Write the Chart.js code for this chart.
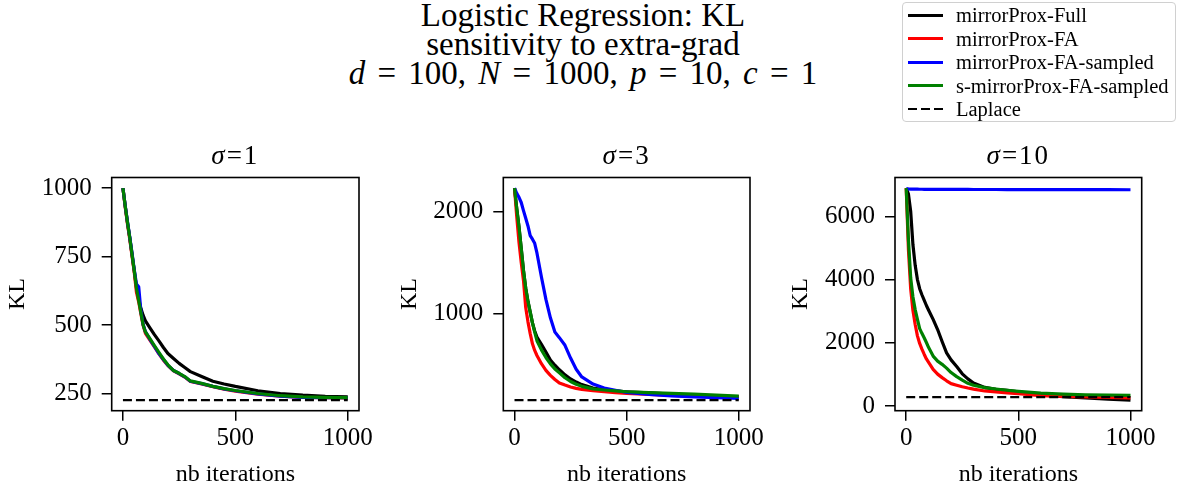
<!DOCTYPE html>
<html>
<head>
<meta charset="utf-8">
<script src="https://cdn.jsdelivr.net/npm/chart.js@4.4.0/dist/chart.umd.min.js"></script>
<style>
    body { margin: 0; background: #fff; }
    #page { position: relative; width: 1180px; height: 489px; overflow: hidden; font-family: "Liberation Serif", serif; color: #000; }
    canvas { position: absolute; left: 0; top: 0; }
    #title { position: absolute; left: 283px; top: 1px; width: 600px; text-align: center; font-size: 33px; line-height: 29px; }
    #title .math { word-spacing: 4px; }
    .sub { position: absolute; top: 140px; width: 200px; text-align: center; font-size: 27px; line-height: 30px; letter-spacing: 2px; }
    #legend { position: absolute; left: 902px; top: 2px; width: 272px; height: 118px; border: 1px solid #d0d0d0; border-radius: 4px; background: #fff; z-index: 5; }
    .row { position: absolute; left: 0; height: 24px; width: 272px; }
    .sample { position: absolute; left: 5px; top: 10.5px; width: 35px; height: 3px; }
    .row span { position: absolute; left: 53px; top: 0; font-size: 20.5px; line-height: 24px; white-space: nowrap; }
</style>
</head>
<body>
<div id="page">
    <div id="title">Logistic Regression: KL<br>sensitivity to extra-grad<br><span class="math"><i>d</i> = 100, <i>N</i> = 1000, <i>p</i> = 10, <i>c</i> = 1</span></div>
    <canvas id="chart1" width="1180" height="489"></canvas>
    <canvas id="chart2" width="1180" height="489"></canvas>
    <canvas id="chart3" width="1180" height="489"></canvas>
    <div id="legend"></div>
</div>
<script>
const iters = [0, 10, 20, 30, 40, 50, 60, 70, 80, 90, 100, 120, 140, 160, 180, 200, 225, 250, 275, 300, 350, 400, 450, 500, 600, 700, 800, 900, 1000];

const seriesNames = ['mirrorProx-Full', 'mirrorProx-FA', 'mirrorProx-FA-sampled', 's-mirrorProx-FA-sampled', 'Laplace'];
const sigmaLabels = ['1', '3', '10'];

// sigma = 1
const full1 = [1000, 935, 875, 821, 760, 700, 640, 595, 560, 535, 515, 490, 465, 442, 418, 396, 378, 360, 345, 330, 312, 295, 285, 276, 260, 250, 244, 240, 238];
const fa1 = [1000, 932, 870, 815, 755, 695, 620, 585, 540, 498, 470, 445, 420, 395, 372, 352, 333, 322, 310, 294, 285, 275, 266, 259, 248, 240, 236, 235, 234];
const faSampled1 = [1000, 937, 878, 823, 765, 705, 650, 640, 550, 502, 476, 448, 422, 396, 374, 353, 334, 323, 311, 295, 286, 276, 267, 260, 249, 240, 236, 235, 235];
const sFaSampled1 = [1000, 935, 875, 821, 760, 700, 635, 590, 545, 500, 475, 450, 425, 400, 376, 355, 334, 324, 312, 296, 287, 276, 268, 261, 250, 242, 238, 236, 235];

// sigma = 3
const full2 = [2231, 2030, 1850, 1640, 1424, 1250, 1120, 1016, 910, 830, 770, 700, 625, 545, 495, 450, 400, 360, 330, 305, 272, 253, 243, 235, 223, 212, 200, 192, 185];
const fa2 = [2231, 1950, 1700, 1500, 1326, 1060, 920, 805, 705, 640, 590, 510, 445, 396, 355, 320, 300, 282, 268, 258, 245, 236, 226, 218, 208, 200, 194, 190, 186];
const faSampled2 = [2231, 2180, 2140, 2090, 2010, 1935, 1860, 1765, 1730, 1690, 1595, 1360, 1140, 960, 820, 765, 690, 565, 455, 380, 310, 272, 250, 228, 208, 195, 185, 178, 170];
const sFaSampled2 = [2231, 2030, 1850, 1640, 1424, 1250, 1120, 1016, 910, 820, 735, 645, 570, 508, 458, 420, 372, 335, 308, 288, 263, 252, 243, 235, 226, 219, 211, 202, 192];

// sigma = 10
const full3 = [6892, 6700, 6150, 5100, 4450, 4000, 3710, 3520, 3350, 3180, 3030, 2740, 2420, 2040, 1680, 1460, 1250, 1020, 860, 730, 590, 530, 495, 450, 355, 295, 255, 222, 189];
const fa3 = [6892, 4930, 3700, 3020, 2580, 2220, 1980, 1800, 1640, 1490, 1380, 1160, 1010, 900, 800, 710, 660, 610, 570, 535, 478, 450, 420, 395, 330, 305, 290, 275, 262];
const faSampled3 = [6870, 6865, 6862, 6860, 6858, 6857, 6856, 6855, 6854, 6853, 6852, 6852, 6851, 6851, 6850, 6850, 6850, 6849, 6849, 6848, 6848, 6847, 6846, 6845, 6844, 6843, 6842, 6841, 6840];
const sFaSampled3 = [6892, 5245, 4050, 3450, 3050, 2740, 2450, 2300, 2160, 2010, 1850, 1580, 1420, 1320, 1200, 1060, 930, 820, 720, 660, 585, 540, 500, 465, 410, 378, 355, 345, 336];

const laplace = [226, 153, 283];

const xTicks = [0, 500, 1000];
const yTicks1 = [250, 500, 750, 1000];
const yTicks2 = [1000, 2000];
const yTicks3 = [0, 2000, 4000, 6000];

const colors = ['#000000', '#ff0000', '#0000ff', '#008000', '#000000'];
const FONT = '"Liberation Serif", serif';

// where each axes box sits on the page
const panels = [
    { id: 'chart1', left: 111.7, right: 359, series: [full1, fa1, faSampled1, sFaSampled1], laplace: laplace[0], yTicks: yTicks1 },
    { id: 'chart2', left: 503.3, right: 750, series: [full2, fa2, faSampled2, sFaSampled2], laplace: laplace[1], yTicks: yTicks2 },
    { id: 'chart3', left: 895, right: 1141.7, series: [full3, fa3, faSampled3, sFaSampled3], laplace: laplace[2], yTicks: yTicks3 },
];
const areaTop = 177.5, areaBottom = 410.7;

const frame = {
    id: 'frame',
    afterDatasetsDraw(chart) {
        const { ctx, chartArea: { left, top, width, height } } = chart;
        ctx.save();
        ctx.strokeStyle = '#000';
        ctx.lineWidth = 1.6;
        ctx.strokeRect(left, top, width, height);
        ctx.restore();
    }
};

function toPoints(vals) {
    return vals.map(function (v, i) { return { x: iters[i], y: v }; });
}

panels.forEach(function (p, k) {
    var datasets = p.series.map(function (vals, i) {
        return {
            label: seriesNames[i],
            data: toPoints(vals),
            borderColor: colors[i],
            borderWidth: 3.2,
            borderJoinStyle: 'round',
            pointRadius: 0,
            tension: 0,
            order: 4 - i
        };
    });
    datasets.push({
        label: seriesNames[4],
        data: [{ x: 0, y: p.laplace }, { x: 1000, y: p.laplace }],
        borderColor: colors[4],
        borderWidth: 2.2,
        borderDash: [9, 4],
        pointRadius: 0,
        order: 0
    });

    var all = [];
    p.series.forEach(function (s) { all = all.concat(s); });
    all.push(p.laplace);
    var lo = Math.min.apply(null, all), hi = Math.max.apply(null, all);
    var pad = 0.05 * (hi - lo);

    var labelLeft = p.left - 94 - 14.4;

    var tickStyle = {
        drawOnChartArea: false,
        drawTicks: true,
        tickLength: 10,
        color: '#000',
        lineWidth: 1.5
    };

    new Chart(document.getElementById(p.id), {
        type: 'line',
        data: { datasets: datasets },
        options: {
            responsive: false,
            animation: false,
            layout: { padding: { left: labelLeft, top: areaTop, right: 1180 - p.right, bottom: 0 } },
            plugins: { legend: { display: false }, tooltip: { enabled: false } },
            scales: {
                x: {
                    type: 'linear',
                    min: -50,
                    max: 1050,
                    afterBuildTicks: function (axis) { axis.ticks = xTicks.map(function (v) { return { value: v }; }); },
                    afterFit: function (scale) { scale.height = 489 - areaBottom; },
                    grid: tickStyle,
                    border: { display: false },
                    ticks: { color: '#000', font: { family: FONT, size: 25 }, padding: 3, maxRotation: 0, callback: function (v) { return String(v); } },
                    title: { display: true, text: 'nb iterations', color: '#000', font: { family: FONT, size: 24 }, padding: { top: 0, bottom: 0 } }
                },
                y: {
                    type: 'linear',
                    min: lo - pad,
                    max: hi + pad,
                    afterBuildTicks: function (axis) { axis.ticks = p.yTicks.map(function (v) { return { value: v }; }); },
                    afterFit: function (scale) { scale.width = p.left - labelLeft; },
                    grid: tickStyle,
                    border: { display: false },
                    ticks: { color: '#000', font: { family: FONT, size: 25 }, padding: 10, callback: function (v) { return String(v); } },
                    title: { display: true, text: 'KL', color: '#000', font: { family: FONT, size: 24 }, padding: { top: 0, bottom: 0 } }
                }
            }
        },
        plugins: [frame]
    });

    var sub = document.createElement('div');
    sub.className = 'sub';
    sub.style.left = ((p.left + p.right) / 2 - 100) + 'px';
    sub.innerHTML = '<i>σ</i>=' + sigmaLabels[k];
    document.getElementById('page').appendChild(sub);
});

// legend
var legend = document.getElementById('legend');
seriesNames.forEach(function (name, i) {
    var row = document.createElement('div');
    row.className = 'row';
    row.style.top = (i * 23.6) + 'px';
    var sample = document.createElement('div');
    sample.className = 'sample';
    if (i === 4) {
        sample.style.height = '2.2px';
        sample.style.background = 'repeating-linear-gradient(to right, #000 0 9px, transparent 9px 13px)';
    } else {
        sample.style.background = colors[i];
    }
    var text = document.createElement('span');
    text.textContent = name;
    row.appendChild(sample);
    row.appendChild(text);
    legend.appendChild(row);
});
</script>
</body>
</html>
